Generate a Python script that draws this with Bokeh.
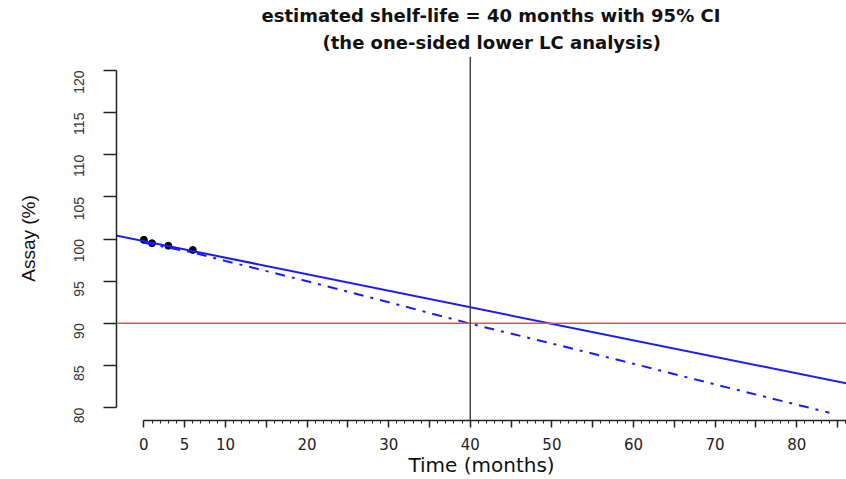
import math
from bokeh.plotting import figure
from bokeh.models import Range1d, LinearAxis, FixedTicker, Span, Title
from bokeh.embed import file_html
from bokeh.resources import INLINE

# ---- data ----
time_obs = [0, 1, 3, 6]
assay_obs = [99.9, 99.5, 99.2, 98.7]

fit_time = [-4, 90]
fit_assay = [100.53, 82.1]

lcl_time = [0, 6, 10, 20, 30, 40, 50, 60, 70, 80, 84]
lcl_assay = [99.55, 98.4, 97.4, 95.0, 92.5, 89.95, 87.6, 85.2, 82.75, 80.35, 79.4]

spec_limit = 90
shelf_life = 40

x_ticks = [0, 5, 10, 15, 20, 25, 30, 35, 40, 45, 50, 55, 60, 65, 70, 75, 80, 85]
x_tick_labels = ["0", "5", "10", "", "20", "", "30", "", "40", "", "50", "", "60", "", "70", "", "80", ""]
x_minor = list(range(0, 87))
y_ticks = [80, 85, 90, 95, 100, 105, 110, 115, 120]

title_line1 = "estimated shelf-life = 40 months with 95% CI"
title_line2 = "(the one-sided lower LC analysis)"

p = figure(width=846, height=479,
           x_range=Range1d(-3.35, 86.1), y_range=Range1d(78.47, 121.65),
           x_axis_type=None, y_axis_type=None,
           output_backend="svg", toolbar_location=None,
           min_border_left=116, min_border_right=0,
           min_border_top=56, min_border_bottom=56)
p.outline_line_color = None
p.background_fill_color = "white"

# titles (second line added first so it sits closest to the plot);
# left-aligned with offsets so both lines are centred near x=490
t2 = Title(text=title_line2, align="left", text_font="DejaVu Sans",
           text_font_size="18px", text_font_style="bold", text_color="#111",
           standoff=8, offset=206)
t1 = Title(text=title_line1, align="left", text_font="DejaVu Sans",
           text_font_size="18px", text_font_style="bold", text_color="#111",
           standoff=0, offset=145)
p.add_layout(t2, "above")
p.add_layout(t1, "above")

xaxis = LinearAxis(ticker=FixedTicker(ticks=x_ticks, minor_ticks=x_minor),
                   bounds=(0, 90),
                   major_label_overrides={t: l for t, l in zip(x_ticks, x_tick_labels)},
                   axis_label="Time (months)")
xaxis.axis_line_width = 1.5
xaxis.axis_line_color = "#222"
xaxis.major_tick_line_width = 1.5
xaxis.major_tick_line_color = "#222"
xaxis.minor_tick_line_color = "#222"
xaxis.major_tick_out = 7
xaxis.major_tick_in = 0
xaxis.minor_tick_out = 3
xaxis.minor_tick_in = 0
xaxis.major_label_standoff = 10
xaxis.major_label_text_font = "DejaVu Sans"
xaxis.major_label_text_font_size = "15px"
xaxis.major_label_text_color = "#222"
xaxis.axis_label_text_font = "DejaVu Sans"
xaxis.axis_label_text_font_size = "20px"
xaxis.axis_label_text_font_style = "normal"
xaxis.axis_label_text_color = "#111"
xaxis.axis_label_standoff = 0
p.add_layout(xaxis, "below")

yaxis = LinearAxis(ticker=FixedTicker(ticks=y_ticks), bounds=(80, 120),
                   axis_label="Assay (%)")
yaxis.major_label_orientation = math.pi / 2
yaxis.axis_line_width = 1.5
yaxis.axis_line_color = "#222"
yaxis.major_tick_line_width = 1.5
yaxis.major_tick_line_color = "#222"
yaxis.minor_tick_line_color = None
yaxis.major_tick_out = 13
yaxis.major_tick_in = 0
yaxis.major_label_standoff = 24
yaxis.major_label_text_font = "Liberation Sans"
yaxis.major_label_text_font_size = "14px"
yaxis.major_label_text_color = "#333"
yaxis.axis_label_text_font = "Liberation Sans"
yaxis.axis_label_text_font_size = "19px"
yaxis.axis_label_text_font_style = "normal"
yaxis.axis_label_text_color = "#111"
yaxis.axis_label_standoff = 28
p.add_layout(yaxis, "left")

p.add_layout(Span(location=spec_limit, dimension="width",
                  line_color="#ff4a4a", line_width=1.5))
p.add_layout(Span(location=shelf_life, dimension="height",
                  line_color="#444444", line_width=1.5))

p.scatter(time_obs, assay_obs, size=7, color="black")
p.line(fit_time, fit_assay, line_color="#1a1aff", line_width=2)
p.line(lcl_time, lcl_assay, line_color="#1a1aff", line_width=2,
       line_dash="10 7 3 7")

open("out.html", "w").write(file_html(p, INLINE))
